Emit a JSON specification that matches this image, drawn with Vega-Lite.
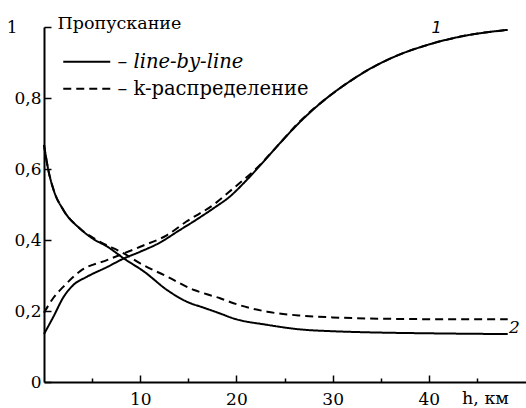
{
  "$schema": "https://vega.github.io/schema/vega-lite/v6.json",
  "width": 482,
  "height": 355,
  "autosize": {"type": "none"},
  "padding": {"left": 44, "top": 27, "right": 0, "bottom": 26},
  "background": "white",
  "config": {
    "view": {"stroke": null},
    "font": "DejaVu Serif",
    "axis": {"grid": false, "domainColor": "black", "domainWidth": 2, "tickColor": "black", "tickWidth": 1.5, "labelColor": "black", "titleColor": "black", "labelFont": "DejaVu Serif", "titleFont": "DejaVu Serif", "labelFontSize": 17, "titleFontSize": 17.5, "titleFontWeight": "normal", "labelFlush": false, "labelOverlap": false}
  },
  "data": {
    "values": [
      {"method": "line-by-line", "curve": "1", "h": 0, "T": 0.135},
      {"method": "line-by-line", "curve": "1", "h": 1, "T": 0.185},
      {"method": "line-by-line", "curve": "1", "h": 2, "T": 0.238},
      {"method": "line-by-line", "curve": "1", "h": 3, "T": 0.272},
      {"method": "line-by-line", "curve": "1", "h": 4.5, "T": 0.297},
      {"method": "line-by-line", "curve": "1", "h": 6.5, "T": 0.323},
      {"method": "line-by-line", "curve": "1", "h": 8.3, "T": 0.348},
      {"method": "line-by-line", "curve": "1", "h": 10, "T": 0.367},
      {"method": "line-by-line", "curve": "1", "h": 12, "T": 0.392},
      {"method": "line-by-line", "curve": "1", "h": 14, "T": 0.426},
      {"method": "line-by-line", "curve": "1", "h": 16, "T": 0.46},
      {"method": "line-by-line", "curve": "1", "h": 17.6, "T": 0.489},
      {"method": "line-by-line", "curve": "1", "h": 19.3, "T": 0.522},
      {"method": "line-by-line", "curve": "1", "h": 21, "T": 0.567},
      {"method": "line-by-line", "curve": "1", "h": 22.8, "T": 0.62},
      {"method": "line-by-line", "curve": "1", "h": 24.5, "T": 0.672},
      {"method": "line-by-line", "curve": "1", "h": 26.7, "T": 0.735},
      {"method": "line-by-line", "curve": "1", "h": 29.4, "T": 0.8},
      {"method": "line-by-line", "curve": "1", "h": 31.9, "T": 0.849},
      {"method": "line-by-line", "curve": "1", "h": 34, "T": 0.884},
      {"method": "line-by-line", "curve": "1", "h": 36.4, "T": 0.916},
      {"method": "line-by-line", "curve": "1", "h": 39.8, "T": 0.949},
      {"method": "line-by-line", "curve": "1", "h": 43.3, "T": 0.973},
      {"method": "line-by-line", "curve": "1", "h": 48.2, "T": 0.992},
      {"method": "k", "curve": "1", "h": 0, "T": 0.195},
      {"method": "k", "curve": "1", "h": 1, "T": 0.238},
      {"method": "k", "curve": "1", "h": 2, "T": 0.268},
      {"method": "k", "curve": "1", "h": 3.8, "T": 0.313},
      {"method": "k", "curve": "1", "h": 6.6, "T": 0.344},
      {"method": "k", "curve": "1", "h": 10, "T": 0.381},
      {"method": "k", "curve": "1", "h": 12.8, "T": 0.414},
      {"method": "k", "curve": "1", "h": 14.8, "T": 0.452},
      {"method": "k", "curve": "1", "h": 17.6, "T": 0.499},
      {"method": "k", "curve": "1", "h": 19.7, "T": 0.546},
      {"method": "k", "curve": "1", "h": 22.1, "T": 0.602},
      {"method": "k", "curve": "1", "h": 24.2, "T": 0.663},
      {"method": "k", "curve": "1", "h": 26.7, "T": 0.737},
      {"method": "k", "curve": "1", "h": 29.4, "T": 0.8},
      {"method": "k", "curve": "1", "h": 31.9, "T": 0.849},
      {"method": "k", "curve": "1", "h": 34, "T": 0.884},
      {"method": "k", "curve": "1", "h": 36.4, "T": 0.916},
      {"method": "k", "curve": "1", "h": 39.8, "T": 0.949},
      {"method": "k", "curve": "1", "h": 43.3, "T": 0.973},
      {"method": "k", "curve": "1", "h": 48.2, "T": 0.992},
      {"method": "line-by-line", "curve": "2", "h": 0, "T": 0.668},
      {"method": "line-by-line", "curve": "2", "h": 0.45, "T": 0.597},
      {"method": "line-by-line", "curve": "2", "h": 1, "T": 0.541},
      {"method": "line-by-line", "curve": "2", "h": 2, "T": 0.485},
      {"method": "line-by-line", "curve": "2", "h": 3.7, "T": 0.433},
      {"method": "line-by-line", "curve": "2", "h": 5, "T": 0.405},
      {"method": "line-by-line", "curve": "2", "h": 6.6, "T": 0.381},
      {"method": "line-by-line", "curve": "2", "h": 8.3, "T": 0.348},
      {"method": "line-by-line", "curve": "2", "h": 10.4, "T": 0.311},
      {"method": "line-by-line", "curve": "2", "h": 12.8, "T": 0.259},
      {"method": "line-by-line", "curve": "2", "h": 15.2, "T": 0.222},
      {"method": "line-by-line", "curve": "2", "h": 16.3, "T": 0.212},
      {"method": "line-by-line", "curve": "2", "h": 18.3, "T": 0.193},
      {"method": "line-by-line", "curve": "2", "h": 19.7, "T": 0.179},
      {"method": "line-by-line", "curve": "2", "h": 23.2, "T": 0.161},
      {"method": "line-by-line", "curve": "2", "h": 26.7, "T": 0.148},
      {"method": "line-by-line", "curve": "2", "h": 30, "T": 0.143},
      {"method": "line-by-line", "curve": "2", "h": 33.6, "T": 0.14},
      {"method": "line-by-line", "curve": "2", "h": 40.5, "T": 0.137},
      {"method": "line-by-line", "curve": "2", "h": 48.2, "T": 0.135},
      {"method": "k", "curve": "2", "h": 0, "T": 0.668},
      {"method": "k", "curve": "2", "h": 0.45, "T": 0.597},
      {"method": "k", "curve": "2", "h": 1, "T": 0.541},
      {"method": "k", "curve": "2", "h": 2, "T": 0.485},
      {"method": "k", "curve": "2", "h": 3.7, "T": 0.433},
      {"method": "k", "curve": "2", "h": 5.5, "T": 0.4},
      {"method": "k", "curve": "2", "h": 8.3, "T": 0.362},
      {"method": "k", "curve": "2", "h": 10, "T": 0.334},
      {"method": "k", "curve": "2", "h": 12.8, "T": 0.297},
      {"method": "k", "curve": "2", "h": 15.6, "T": 0.259},
      {"method": "k", "curve": "2", "h": 16.6, "T": 0.25},
      {"method": "k", "curve": "2", "h": 18.3, "T": 0.236},
      {"method": "k", "curve": "2", "h": 19.7, "T": 0.222},
      {"method": "k", "curve": "2", "h": 23.2, "T": 0.198},
      {"method": "k", "curve": "2", "h": 26.7, "T": 0.187},
      {"method": "k", "curve": "2", "h": 30, "T": 0.182},
      {"method": "k", "curve": "2", "h": 33.6, "T": 0.179},
      {"method": "k", "curve": "2", "h": 40.5, "T": 0.177},
      {"method": "k", "curve": "2", "h": 48.2, "T": 0.177}
    ]
  },
  "layer": [
    {
      "mark": {"type": "line", "color": "black", "strokeWidth": 2, "interpolate": "monotone"},
      "encoding": {
        "x": {
          "field": "h", "type": "quantitative",
          "scale": {"domain": [0, 50.1], "nice": false, "zero": false},
          "axis": {
            "values": [5, 10, 15, 20, 25, 30, 35, 40, 45],
            "labelExpr": "datum.value % 10 === 0 ? datum.label : ''",
            "tickSize": {"condition": {"test": "datum.value % 10 === 0", "value": -7}, "value": -4},
            "labelPadding": 29,
            "labelBaseline": "alphabetic",
            "title": "h, км",
            "titleX": 441,
            "titleY": 21,
            "titleAlign": "center",
            "titleBaseline": "alphabetic"
          }
        },
        "y": {
          "field": "T", "type": "quantitative",
          "scale": {"domain": [0, 1], "nice": false},
          "axis": {
            "values": [0, 0.1, 0.2, 0.3, 0.4, 0.5, 0.6, 0.7, 0.8, 0.9, 1],
            "labelExpr": "round(datum.value*10) % 2 === 0 ? replace(format(datum.value, '~g'), '.', ',') : ''",
            "tickSize": {"condition": {"test": "round(datum.value*10) % 2 === 0", "value": -7}, "value": -4},
            "labelPadding": {"condition": {"test": "datum.value === 1", "value": 34}, "value": 10},
            "labelBaseline": "middle",
            "title": "Пропускание",
            "titleAngle": 0,
            "titleX": 13,
            "titleY": 1,
            "titleAlign": "left",
            "titleBaseline": "alphabetic"
          }
        },
        "strokeDash": {
          "field": "method", "type": "nominal",
          "scale": {"domain": ["line-by-line", "k"], "range": [[1, 0], [8, 5]]},
          "legend": {
            "orient": "none",
            "legendX": 33,
            "legendY": 25,
            "title": null,
            "padding": 0,
            "symbolType": "M-4.7,0H4.7",
            "symbolSize": 100,
            "symbolStrokeWidth": 2,
            "symbolStrokeColor": "black",
            "symbolFillColor": "transparent",
            "labelFont": "DejaVu Serif",
            "labelFontSize": 19.5,
            "labelColor": "black",
            "labelOffset": 21,
            "rowPadding": 6,
            "labelLimit": 400,
            "labelExpr": "datum.value === 'k' ? '– k-распределение' : '– line-by-line'",
            "encode": {"labels": {"update": {"fontStyle": {"signal": "datum.value === 'k' ? 'normal' : 'italic'"}}}}
          }
        },
        "detail": {"field": "curve", "type": "nominal"}
      }
    },
    {
      "data": {"values": [{"label": "1", "h": 40.8, "T": 0.997}]},
      "mark": {"type": "text", "font": "DejaVu Sans", "fontStyle": "italic", "fontSize": 16, "align": "center", "baseline": "middle", "color": "black"},
      "encoding": {
        "x": {"field": "h", "type": "quantitative"},
        "y": {"field": "T", "type": "quantitative"},
        "text": {"field": "label"}
      }
    },
    {
      "data": {"values": [{"label": "2", "h": 48.9, "T": 0.152}]},
      "mark": {"type": "text", "font": "DejaVu Serif", "fontStyle": "italic", "fontSize": 17, "align": "center", "baseline": "middle", "color": "black"},
      "encoding": {
        "x": {"field": "h", "type": "quantitative"},
        "y": {"field": "T", "type": "quantitative"},
        "text": {"field": "label"}
      }
    }
  ]
}
